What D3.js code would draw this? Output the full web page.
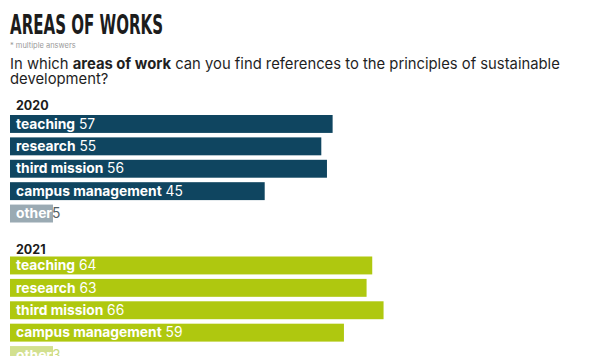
<!DOCTYPE html>
<html>
<head>
<meta charset="utf-8">
<script src="https://cdn.jsdelivr.net/npm/d3@7"></script>
<style>
  html, body { margin: 0; padding: 0; background: #ffffff; }
  svg { display: block; }
</style>
</head>
<body>
<div id="chart"></div>
<script>
// Survey answers per area of work (multiple answers allowed)
const categories = ["teaching", "research", "third mission", "campus management", "other"];
const years = ["2020", "2021"];
const values2020 = [57, 55, 56, 45, 5];
const values2021 = [64, 63, 66, 59, 3];

const width = 603, height = 356;
const svg = d3.select("#chart").append("svg")
  .attr("width", width).attr("height", height);

const sans = "Inter, 'Noto Sans', sans-serif";

// Header
svg.append("text")
  .attr("x", 10).attr("y", 33.5)
  .attr("font-family", "'DejaVu Sans Condensed', 'DejaVu Sans', sans-serif")
  .attr("font-stretch", "condensed")
  .attr("font-weight", 700)
  .attr("font-size", 26)
  .attr("textLength", 153).attr("lengthAdjust", "spacingAndGlyphs")
  .attr("fill", "#1c1c1c")
  .text("AREAS OF WORKS");

svg.append("text")
  .attr("x", 10).attr("y", 48)
  .attr("font-family", sans).attr("font-size", 7.5)
  .attr("fill", "#9a9a9a")
  .text("* multiple answers");

const q1 = svg.append("text")
  .attr("x", 10).attr("y", 69)
  .attr("font-family", sans).attr("font-size", 14.8)
  .attr("fill", "#1f1f1f");
q1.append("tspan").text("In which ");
q1.append("tspan").attr("font-weight", 700).text("areas of work");
q1.append("tspan").text(" can you find references to the principles of sustainable");

svg.append("text")
  .attr("x", 10).attr("y", 84)
  .attr("font-family", sans).attr("font-size", 14.8)
  .attr("fill", "#1f1f1f")
  .text("development?");

// Shared horizontal scale
const x = d3.scaleLinear().domain([0, 100]).range([0, 566]);
const left = 10;

const groups = [
  { year: years[0], values: values2020, labelY: 109.5, top: 115,
    main: "#0f4560", other: "#9aaab3", otherValue: "#4f5d64" },
  { year: years[1], values: values2021, labelY: 254, top: 256.5,
    main: "#afc80f", other: "#d2e08f", otherValue: "#c8da80" }
];

groups.forEach(g => {
  const y = d3.scaleBand()
    .domain(categories)
    .range([g.top, g.top + categories.length * 21.5])
    .paddingInner(0.2).paddingOuter(0).align(0);

  svg.append("text")
    .attr("x", 16).attr("y", g.labelY)
    .attr("font-family", sans).attr("font-weight", 700).attr("font-size", 12.5)
    .attr("fill", "#1c1c1c")
    .text(g.year);

  const rows = svg.append("g").selectAll("g")
    .data(categories.map((c, i) => ({ cat: c, v: g.values[i] })))
    .join("g")
    .attr("transform", d => `translate(${left},${y(d.cat)})`);

  const rects = rows.append("rect")
    .attr("x", 0).attr("y", 0)
    .attr("height", y.bandwidth())
    .attr("fill", d => d.cat === "other" ? g.other : g.main);

  const labels = rows.append("text")
    .attr("x", 6).attr("y", y.bandwidth() * 0.76)
    .attr("font-family", sans).attr("font-size", 13.8)
    .attr("fill", "#ffffff");
  labels.append("tspan").attr("class", "name").attr("font-weight", 700).text(d => d.cat);
  labels.append("tspan")
    .attr("font-weight", 400)
    .attr("fill", d => d.cat === "other" ? g.otherValue : "#ffffff")
    .text(d => (d.cat === "other" ? "" : " ") + d.v);

  // Bars are at least as wide as their category name
  rects.attr("width", function(d) {
    const nameNode = this.parentNode.querySelector("tspan.name");
    const nameW = nameNode.getComputedTextLength();
    return Math.max(x(d.v), 6 + nameW + 1);
  });
});
</script>
</body>
</html>
